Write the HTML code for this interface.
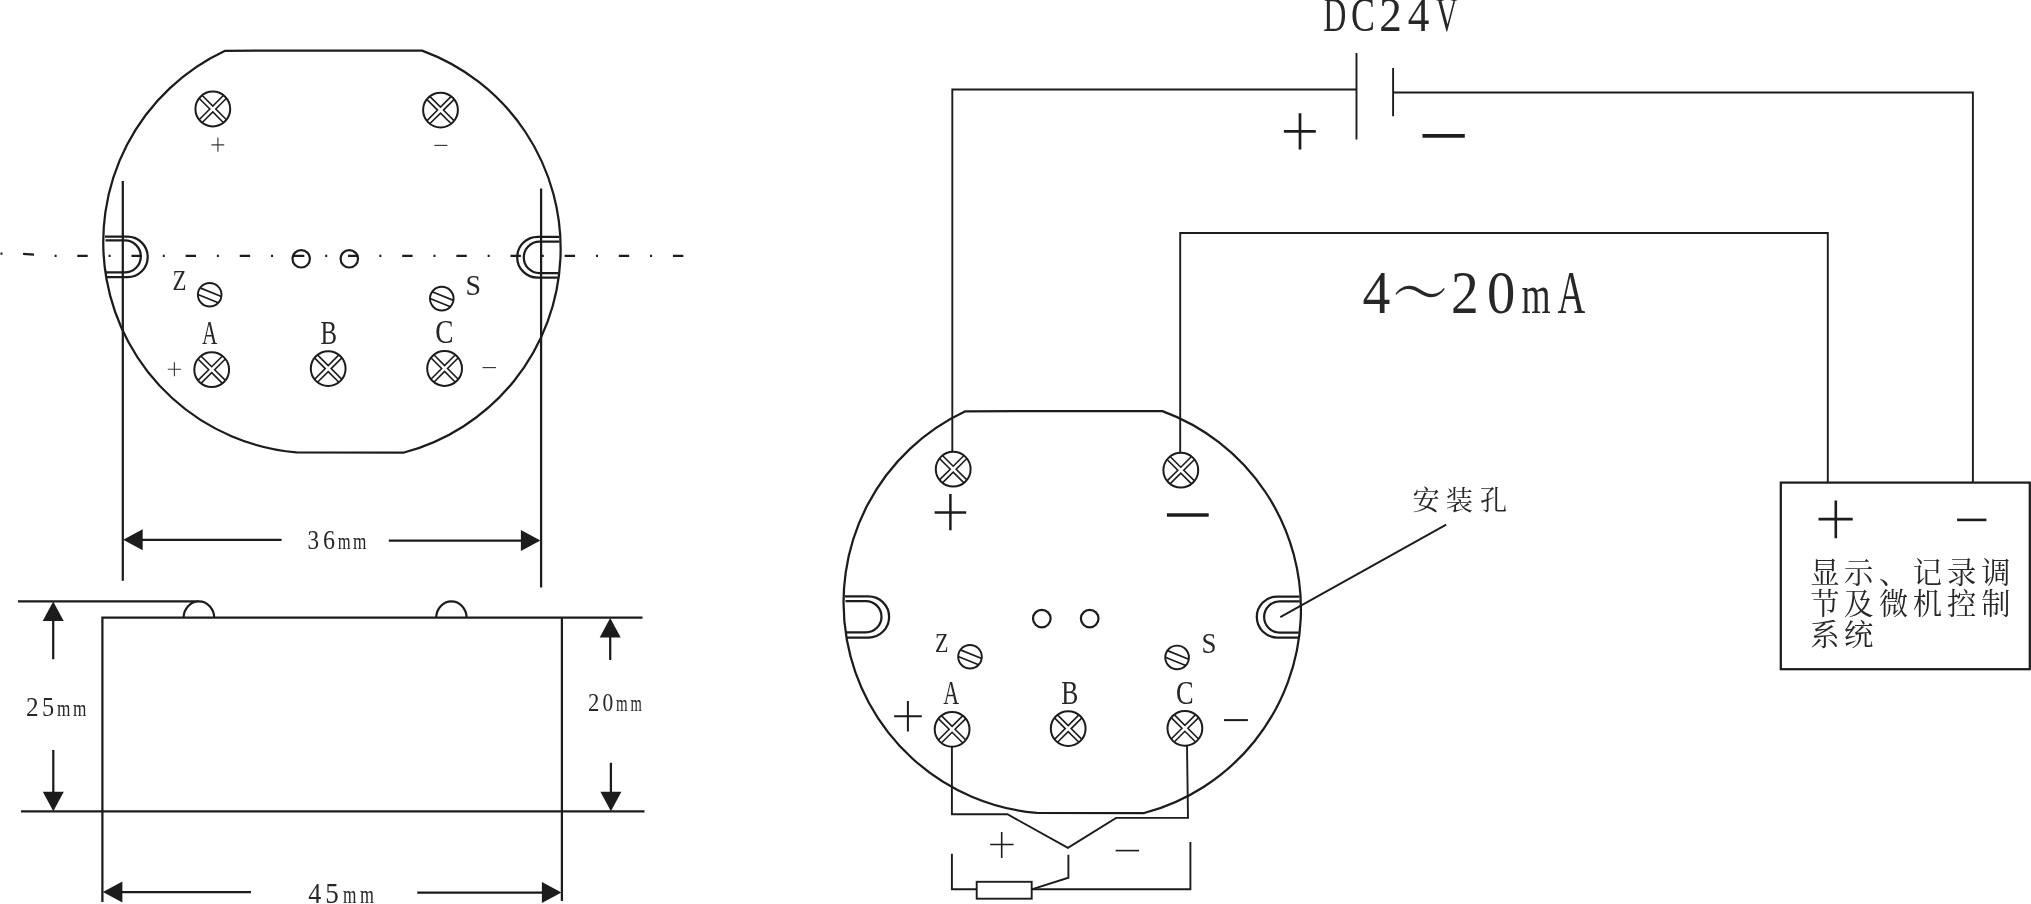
<!DOCTYPE html>
<html lang="zh">
<head>
<meta charset="utf-8">
<title>DC24V 4～20mA 接线图</title>
<style>
html,body{margin:0;padding:0;background:#fff;}
body{width:2031px;height:904px;overflow:hidden;}
svg{display:block;filter:grayscale(1);}
.ln{fill:none;stroke:#1f1b1c;stroke-width:2.25;}
.w{fill:none;stroke:#1f1b1c;stroke-width:1.9;}
.t{font-family:"Liberation Serif","Noto Serif CJK SC",serif;fill:#2a2627;}
.c{font-family:"Liberation Serif","Noto Serif CJK SC",serif;fill:#2a2627;}
.ar{fill:#1f1b1c;stroke:none;}
</style>
</head>
<body>
<svg width="2031" height="904" viewBox="0 0 2031 904">
<desc>DC24V 4～20mA 36mm 25mm 20mm 45mm A B C Z S 安装孔 显示、记录调节及微机控制系统</desc>
<rect width="2031" height="904" fill="#fff"/>
<defs>

<path id="outline" d="M225.1,50.75 L422.1,50.6 A210.9,210.9 0 0 1 404,452.5 L296.5,452.4 A211.1,211.1 0 0 1 225.1,50.75 Z"/>
<g id="screw"><circle r="17.4" stroke-width="2"/><path transform="rotate(45)" d="M17.27,-2.10 L2.10,-2.10 L2.10,-17.27 M-2.10,-17.27 L-2.10,-2.10 L-17.27,-2.10 M-17.27,2.10 L-2.10,2.10 L-2.10,17.27 M2.10,17.27 L2.10,2.10 L17.27,2.10" stroke-width="1.6"/></g>
<g id="adj"><circle r="11.8" stroke-width="1.95"/><path d="M-9.64,-6.81 L11.66,1.80 M-11.80,-0.13 L8.58,8.10 " stroke-width="1.7"/></g>
</defs>
<g class="ln">
<use href="#outline"/>
<use href="#screw" x="212.8" y="109.0"/>
<use href="#screw" x="440.5" y="110.1"/>
<use href="#screw" x="211.7" y="369.7"/>
<use href="#screw" x="328.2" y="368.6"/>
<use href="#screw" x="444.6" y="368.5"/>
<use href="#adj" x="209.7" y="294.7"/>
<use href="#adj" x="441.8" y="298.6"/>
<circle cx="301.2" cy="258.8" r="8.7" stroke-width="2.2"/>
<circle cx="349.3" cy="258.8" r="8.7" stroke-width="2.2"/>
<path d="M105,236.7 H127.5 A20.2,20.2 0 0 1 127.5,277.1 H106.5"/>
<path d="M105.5,240.4 H124.8 A16,16 0 0 1 124.8,272.4 H106"/>
<path d="M559,236.8 H537.6 A20.4,20.4 0 0 0 537.6,277.6 H557.8"/>
<path d="M559.3,241.7 H539.5 A15.7,15.7 0 0 0 539.5,273.1 H558.3"/>
<path d="M77.3,255.8 H683.6" stroke-width="2.3" stroke-dasharray="10.4 20.9 2 20.85"/>
<path d="M54.6,255.8 h2 M23.1,253.8 L34,254.7 M0.5,253.6 h2" stroke-width="2.3"/>
<path d="M122.8,181 V580.7 M541.1,188.5 V587.6"/>
<path d="M18,601.4 H198.5 M183.6,617.7 A15.3,16.3 0 0 1 214.2,617.7 M436.2,617.7 A15.2,16.3 0 0 1 466.6,617.7"/>
<path d="M102.4,902 V617.7 H642.5 M561.9,617.7 V901"/>
<path d="M21,811.3 H644.5"/>
<path d="M140,539.8 H281.6 M388.8,540.6 H522 M53.2,618 V659.3 M53.3,750.1 V795 M610.2,636 V660.1 M610.9,762.8 V795 M120,892 H251 M417.2,892.6 H545"/>
</g>
<path class="ar" d="M123.2,539.8 L142.7,529.3 L142.7,550.3 Z"/>
<path class="ar" d="M540.4,540.6 L520.9,551.1 L520.9,530.1 Z"/>
<path class="ar" d="M53.2,601.6 L63.7,621.1 L42.7,621.1 Z"/>
<path class="ar" d="M53.3,811.2 L42.8,791.7 L63.8,791.7 Z"/>
<path class="ar" d="M610.2,618.0 L620.7,637.5 L599.7,637.5 Z"/>
<path class="ar" d="M610.9,811.2 L600.4,791.7 L621.4,791.7 Z"/>
<path class="ar" d="M102.9,892.0 L122.4,881.5 L122.4,902.5 Z"/>
<path class="ar" d="M561.4,892.6 L541.9,903.1 L541.9,882.1 Z"/>
<g class="w" style="stroke-width:1.15;stroke:#3c3839">
<path d="M211.4,144.8 H224.2 M217.9,137.6 V151.8"/>
<path d="M434.4,145.4 H447.4"/>
<path d="M167.8,369.2 H181 M174.4,362.3 V376.2"/>
<path d="M482.5,367.6 H496"/>
</g>
<g class="ln">
<use href="#outline" x="740.3" y="360.5"/>
<use href="#screw" x="953.2" y="469.2"/>
<use href="#screw" x="1180.8" y="470.2"/>
<use href="#screw" x="952.1" y="729.3"/>
<use href="#screw" x="1068.2" y="728.6"/>
<use href="#screw" x="1184.9" y="728.3"/>
<use href="#adj" x="970" y="656.7"/>
<use href="#adj" x="1177.1" y="657.4"/>
<circle cx="1041.8" cy="618.6" r="8.8" stroke-width="2.2"/>
<circle cx="1089.7" cy="618.6" r="8.8" stroke-width="2.2"/>
<path d="M845,596.3 H868.5 A20.6,20.6 0 0 1 868.5,637.5 H846.5"/>
<path d="M845.5,601 H865.8 A15.7,15.7 0 0 1 865.8,632.4 H846"/>
<path d="M1299.5,596.5 H1277.3 A20.5,20.5 0 0 0 1277.3,637.5 H1298.3"/>
<path d="M1299.8,601.4 H1279.7 A15.6,15.6 0 0 0 1279.7,632.6 H1298.8"/>
</g>
<g class="w">
<path d="M952.3,451.7 V89.5 H1356.5 M1356.5,53.1 V139.5 M1393.1,68.1 V116.3 M1393.1,92.5 H1972.9 V482.6"/>
<path d="M1180.2,452.7 V233 H1827.8 V482.6"/>
<path d="M1280.3,617.1 L1446.2,524.6"/>
<path d="M951.9,746.8 V814.2 H1007.4 L1067.9,847.8 L1116.1,817.9 H1188 L1187,745.8"/>
<path d="M1068.4,854.7 V877.7 L1031.7,889.4"/>
<path d="M951.9,853.7 V889.3 H976.7 M1031.7,889.3 H1190.4 V842.1"/>
<rect x="976.7" y="881.8" width="55" height="16.9"/>
</g>
<rect class="ln" x="1780.8" y="482.6" width="249" height="186.6"/>
<g fill="none" stroke="#1f1b1c">
<path stroke-width="2.7" d="M1283.9,131.3 H1315.8 M1300,113.3 V149.6"/>
<path stroke-width="3.9" d="M1422.5,135.9 H1464.8"/>
<path stroke-width="2.5" d="M934.6,512.5 H966.2 M950.4,494 V530.2"/>
<path stroke-width="3.5" d="M1166.9,515 H1208.7"/>
<path stroke-width="2" d="M894.1,716.2 H921.8 M907.9,701 V731.5"/>
<path stroke-width="2" d="M1224,720.1 H1247.9"/>
<path stroke-width="1.6" d="M990.2,844.5 H1013.6 M1001.7,831.9 V858"/>
<path stroke-width="1.6" d="M1115.7,850.6 H1139.1"/>
<path stroke-width="2.6" d="M1818.5,519.1 H1852.7 M1835.8,500.4 V538.3"/>
<path stroke-width="2.6" d="M1957.1,519.9 H1986.4"/>
</g>
<text class="t" aria-label="A" y="343.5" font-size="34.1"><tspan x="202.1" textLength="15.36" lengthAdjust="spacingAndGlyphs">A</tspan></text>
<text class="t" aria-label="B" y="343.5" font-size="34.4"><tspan x="320.6" textLength="16.52" lengthAdjust="spacingAndGlyphs">B</tspan></text>
<text class="t" aria-label="C" y="343.3" font-size="33.2"><tspan x="435.3" textLength="18.23" lengthAdjust="spacingAndGlyphs">C</tspan></text>
<text class="t" aria-label="Z" y="289.5" font-size="29.8"><tspan x="172.5" textLength="13.94" lengthAdjust="spacingAndGlyphs">Z</tspan></text>
<text class="t" aria-label="S" y="294.6" font-size="29.1"><tspan x="465.5" textLength="15.49" lengthAdjust="spacingAndGlyphs">S</tspan></text>
<text class="t" aria-label="A" y="704.4" font-size="33.0"><tspan x="943.3" textLength="15.88" lengthAdjust="spacingAndGlyphs">A</tspan></text>
<text class="t" aria-label="B" y="703.9" font-size="32.8"><tspan x="1061.3" textLength="17.09" lengthAdjust="spacingAndGlyphs">B</tspan></text>
<text class="t" aria-label="C" y="704.1" font-size="33.1"><tspan x="1176.0" textLength="17.64" lengthAdjust="spacingAndGlyphs">C</tspan></text>
<text class="t" aria-label="Z" y="651.6" font-size="26.7"><tspan x="935.1" textLength="13.46" lengthAdjust="spacingAndGlyphs">Z</tspan></text>
<text class="t" aria-label="S" y="653.0" font-size="28.8"><tspan x="1201.4" textLength="14.97" lengthAdjust="spacingAndGlyphs">S</tspan></text>
<text class="t" aria-label="36mm" y="548.8" font-size="26.4"><tspan x="307.4" textLength="11.62" lengthAdjust="spacingAndGlyphs">3</tspan><tspan x="323.0" textLength="12.05" lengthAdjust="spacingAndGlyphs">6</tspan><tspan x="337.7" textLength="12.91" lengthAdjust="spacingAndGlyphs" font-size="23.8">m</tspan><tspan x="353.1" textLength="13.43" lengthAdjust="spacingAndGlyphs" font-size="23.8">m</tspan></text>
<text class="t" aria-label="25mm" y="715.6" font-size="26.4"><tspan x="26.1" textLength="12.60" lengthAdjust="spacingAndGlyphs">2</tspan><tspan x="42.1" textLength="12.16" lengthAdjust="spacingAndGlyphs">5</tspan><tspan x="57.1" textLength="13.43" lengthAdjust="spacingAndGlyphs" font-size="23.8">m</tspan><tspan x="72.9" textLength="13.43" lengthAdjust="spacingAndGlyphs" font-size="23.8">m</tspan></text>
<text class="t" aria-label="20mm" y="710.9" font-size="25.1"><tspan x="588.0" textLength="11.35" lengthAdjust="spacingAndGlyphs">2</tspan><tspan x="602.4" textLength="10.74" lengthAdjust="spacingAndGlyphs">0</tspan><tspan x="616.0" textLength="11.65" lengthAdjust="spacingAndGlyphs" font-size="22.6">m</tspan><tspan x="630.5" textLength="11.33" lengthAdjust="spacingAndGlyphs" font-size="22.6">m</tspan></text>
<text class="t" aria-label="45mm" y="903.3" font-size="28.6"><tspan x="308.2" textLength="13.02" lengthAdjust="spacingAndGlyphs">4</tspan><tspan x="325.3" textLength="13.53" lengthAdjust="spacingAndGlyphs">5</tspan><tspan x="343.0" textLength="13.43" lengthAdjust="spacingAndGlyphs" font-size="25.7">m</tspan><tspan x="360.0" textLength="13.96" lengthAdjust="spacingAndGlyphs" font-size="25.7">m</tspan></text>
<text class="t" aria-label="DC24V" y="31.1" font-size="49.0"><tspan x="1323.3" textLength="23.10" lengthAdjust="spacingAndGlyphs">D</tspan><tspan x="1351.0" textLength="23.95" lengthAdjust="spacingAndGlyphs">C</tspan><tspan x="1379.3" textLength="22.58" lengthAdjust="spacingAndGlyphs">2</tspan><tspan x="1407.7" textLength="21.62" lengthAdjust="spacingAndGlyphs">4</tspan><tspan x="1435.7" textLength="21.98" lengthAdjust="spacingAndGlyphs">V</tspan></text>
<text class="t" aria-label="4～20mA" y="312.9" font-size="60.9"><tspan x="1362.4" textLength="27.86" lengthAdjust="spacingAndGlyphs">4</tspan><tspan x="1392.8" textLength="54.78" lengthAdjust="spacingAndGlyphs" dy="1.6">～</tspan><tspan x="1451.0" textLength="27.69" lengthAdjust="spacingAndGlyphs" dy="-1.6">2</tspan><tspan x="1486.9" textLength="28.31" lengthAdjust="spacingAndGlyphs">0</tspan><tspan x="1521.5" textLength="29.07" lengthAdjust="spacingAndGlyphs" font-size="54.8">m</tspan><tspan x="1557.6" textLength="27.76" lengthAdjust="spacingAndGlyphs">A</tspan></text>
<text class="c" font-size="27.2" y="510" x="1412.6 1445.8 1480.1">安装孔</text>
<text class="c" font-size="29.3" y="582.8" x="1810.2 1844 1878.9 1912.7 1947 1981.3">显示、记录调</text>
<text class="c" font-size="29.3" y="613.9" x="1810.2 1844 1878.9 1912.7 1947 1981.3">节及微机控制</text>
<text class="c" font-size="29.3" y="645.1" x="1810.2 1844">系统</text>
</svg>
</body>
</html>
